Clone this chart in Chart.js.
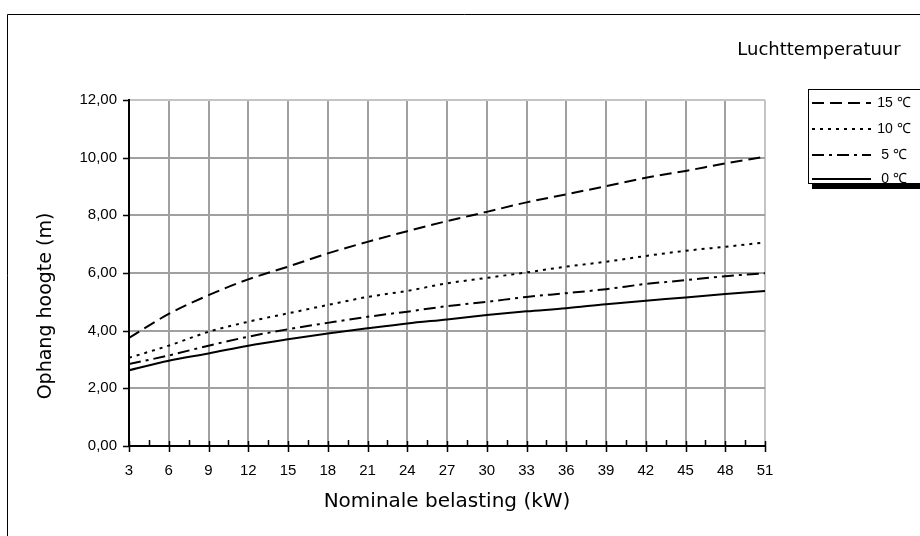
<!DOCTYPE html>
<html><head><meta charset="utf-8">
<script src="https://cdn.jsdelivr.net/npm/chart.js@4/dist/chart.umd.min.js"></script>
<style>html,body{margin:0;padding:0;background:#fff;overflow:hidden}#wrap{width:920px;height:536px;position:relative}</style>
</head><body><div id="wrap"><canvas id="c" width="920" height="536"></canvas></div>
<script>
// ---- data ----
const xValues = [3,6,9,12,15,18,21,24,27,30,33,36,39,42,45,48,51];
const seriesLabels = ['15 ℃','10 ℃','5 ℃','0 ℃'];
const s15 = [3.75,4.58,5.23,5.78,6.22,6.68,7.08,7.45,7.80,8.12,8.45,8.73,9.01,9.30,9.54,9.80,10.03];
const s10 = [3.06,3.48,3.96,4.31,4.60,4.89,5.17,5.38,5.64,5.83,6.02,6.22,6.39,6.59,6.77,6.91,7.06];
const s5  = [2.84,3.14,3.48,3.79,4.05,4.27,4.48,4.66,4.85,5.00,5.17,5.30,5.44,5.62,5.75,5.89,5.99];
const s0  = [2.63,2.96,3.21,3.48,3.70,3.90,4.08,4.25,4.39,4.54,4.67,4.78,4.92,5.04,5.15,5.27,5.38];
const yTickLabels = ['0,00','2,00','4,00','6,00','8,00','10,00','12,00'];
const legendTitle = 'Luchttemperatuur';
const xTitle = 'Nominale belasting (kW)';
const yTitle = 'Ophang hoogte (m)';

const dashes = [[12,6],[3,5],[12,5,3,5],[]];
const seriesValues = [s15,s10,s5,s0];

const datasets = seriesValues.map((vals,i)=>({
  label: seriesLabels[i],
  data: xValues.map((x,j)=>({x:x,y:vals[j]})),
  borderColor:'#000', backgroundColor:'#000', borderWidth:2,
  borderDash: dashes[i], pointRadius:0, cubicInterpolationMode:'monotone', fill:false
}));

const decor = {
  id:'decor',
  afterDraw(chart){
    const ctx = chart.ctx, xs = chart.scales.x, ys = chart.scales.y, ca = chart.chartArea;
    ctx.save();
    // frame
    ctx.strokeStyle='#000'; ctx.lineWidth=1; ctx.setLineDash([]);
    ctx.beginPath(); ctx.moveTo(7.5,540); ctx.lineTo(7.5,14.5); ctx.lineTo(925,14.5); ctx.stroke();
    // tick marks
    ctx.lineWidth=1.5;
    ctx.beginPath();
    for(let v=0; v<=12; v+=2){ const y=Math.round(ys.getPixelForValue(v))+0.5; ctx.moveTo(ca.left-6,y); ctx.lineTo(ca.left,y); }
    for(let v=3; v<=51; v+=3){ const x=Math.round(xs.getPixelForValue(v))+0.5; ctx.moveTo(x,ca.bottom-5); ctx.lineTo(x,ca.bottom+6); }
    for(let v=4.5; v<51; v+=3){ const x=Math.round(xs.getPixelForValue(v))+0.5; ctx.moveTo(x,ca.bottom-6); ctx.lineTo(x,ca.bottom); }
    ctx.stroke();
    // titles
    ctx.fillStyle='#000';
    ctx.font='20px "DejaVu Sans"'; ctx.textAlign='center'; ctx.textBaseline='middle';
    ctx.fillText(xTitle, (ca.left+ca.right)/2, 502);
    ctx.font='19px "DejaVu Sans"';
    ctx.save(); ctx.translate(46,306); ctx.rotate(-Math.PI/2); ctx.fillText(yTitle,0,0); ctx.restore();
    ctx.font='18px "DejaVu Sans"';
    ctx.fillText(legendTitle, 819, 50);
    // legend
    ctx.fillStyle='#fff'; ctx.fillRect(808,89,120,94);
    ctx.strokeStyle='#000'; ctx.lineWidth=1; ctx.strokeRect(808.5,89.5,120,94);
    ctx.fillStyle='#000'; ctx.fillRect(812,184,115,5);
    const ly=[103,129,155,179];
    chart.data.datasets.forEach((ds,i)=>{
      ctx.lineWidth=2; ctx.setLineDash(ds.borderDash);
      ctx.beginPath(); ctx.moveTo(812,ly[i]); ctx.lineTo(871,ly[i]); ctx.stroke();
      ctx.setLineDash([]);
      ctx.font='14px "Liberation Sans"'; ctx.textAlign='center';
      ctx.fillText(ds.label, 894, ly[i]);
    });
    ctx.restore();
  }
};

new Chart(document.getElementById('c'), {
  type:'line',
  data:{datasets:datasets},
  options:{
    responsive:false, animation:false, devicePixelRatio:1,
    layout:{padding:{left:0,right:155,top:100,bottom:0}},
    plugins:{legend:{display:false},tooltip:{enabled:false}},
    scales:{
      x:{type:'linear',min:3,max:51,
        afterFit(s){s.height=90;},
        ticks:{stepSize:3,color:'#000',font:{family:'"Liberation Sans", Arial, sans-serif',size:15},padding:16,maxRotation:0,autoSkip:false},
        grid:{color:(c)=>c.tick && c.tick.value===51?'#c4c4c4':'#a0a0a0',lineWidth:2,drawTicks:false},
        border:{display:true,color:'#000',width:2}},
      y:{min:0,max:12,
        afterFit(s){s.width=129;},
        ticks:{stepSize:2,color:'#000',font:{family:'"Liberation Sans", Arial, sans-serif',size:15},padding:12,
          callback:(v)=>yTickLabels[Math.round(v/2)]},
        grid:{color:(c)=>c.tick && c.tick.value===12?'#c4c4c4':'#a0a0a0',lineWidth:2,drawTicks:false},
        border:{display:true,color:'#000',width:2}}
    }
  },
  plugins:[decor]
});
</script></body></html>
